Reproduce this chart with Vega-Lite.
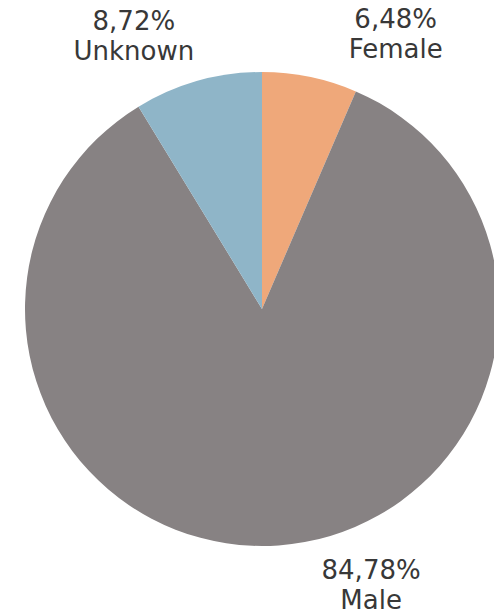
{
  "$schema": "https://vega.github.io/schema/vega-lite/v6.json",
  "width": 474,
  "height": 474,
  "autosize": {"type": "none"},
  "padding": {"left": 25, "top": 72, "right": 0, "bottom": 70},
  "background": "white",
  "view": {"stroke": null},
  "data": {
    "values": [
      {"gender": "Female", "pct": 6.48, "label": "6,48%\nFemale"},
      {"gender": "Male", "pct": 84.78, "label": "84,78%\nMale"},
      {"gender": "Unknown", "pct": 8.72, "label": "8,72%\nUnknown"}
    ]
  },
  "layer": [
    {
      "mark": {"type": "arc", "radius": 237},
      "encoding": {
        "theta": {"field": "pct", "type": "quantitative", "stack": true},
        "order": {"field": "gender", "type": "nominal", "sort": "ascending"},
        "color": {
          "field": "gender",
          "type": "nominal",
          "scale": {"domain": ["Female", "Male", "Unknown"], "range": ["#EFA87A", "#878283", "#8FB5C8"]},
          "legend": null
        }
      }
    },
    {
      "mark": {"type": "text", "font": "DejaVu Sans", "fontSize": 26, "fill": "#383838", "lineBreak": "\n", "lineHeight": 30, "align": "center", "baseline": "middle", "dx": 73, "dy": 5},
      "encoding": {
        "theta": {"field": "pct", "type": "quantitative", "stack": true},
        "order": {"field": "gender", "type": "nominal", "sort": "ascending"},
        "detail": {"field": "gender", "type": "nominal"},
        "radius": {"value": 300},
        "text": {"condition": {"test": "datum.gender === 'Female'", "field": "label"}, "value": ""}
      }
    },
    {
      "mark": {"type": "text", "font": "DejaVu Sans", "fontSize": 26, "fill": "#383838", "lineBreak": "\n", "lineHeight": 30, "align": "center", "baseline": "middle", "dx": -47, "dy": 2},
      "encoding": {
        "theta": {"field": "pct", "type": "quantitative", "stack": true},
        "order": {"field": "gender", "type": "nominal", "sort": "ascending"},
        "detail": {"field": "gender", "type": "nominal"},
        "radius": {"value": 300},
        "text": {"condition": {"test": "datum.gender === 'Unknown'", "field": "label"}, "value": ""}
      }
    },
    {
      "mark": {"type": "text", "font": "DejaVu Sans", "fontSize": 26, "fill": "#383838", "lineBreak": "\n", "lineHeight": 30, "align": "center", "baseline": "middle", "dx": 88, "dy": -37},
      "encoding": {
        "theta": {"field": "pct", "type": "quantitative", "stack": true},
        "order": {"field": "gender", "type": "nominal", "sort": "ascending"},
        "detail": {"field": "gender", "type": "nominal"},
        "radius": {"value": 300},
        "text": {"condition": {"test": "datum.gender === 'Male'", "field": "label"}, "value": ""}
      }
    }
  ]
}
